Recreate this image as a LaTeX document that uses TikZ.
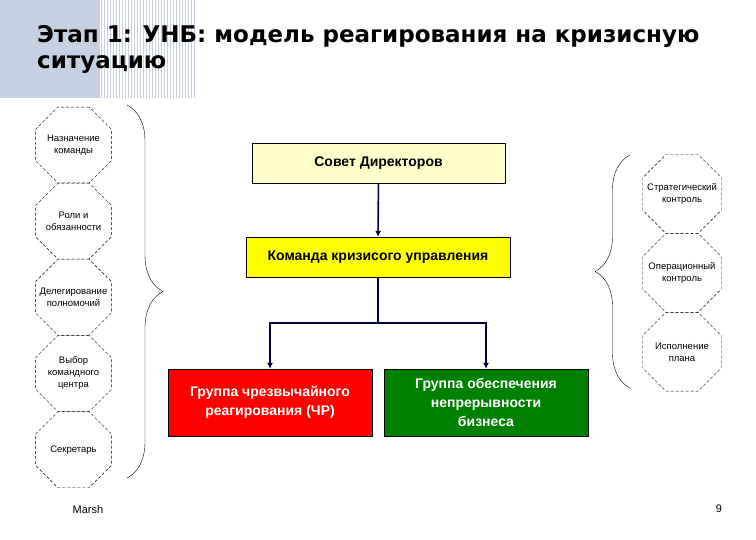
\documentclass[tikz,border=0pt]{standalone}
\usepackage{fontspec}
\setmainfont{Liberation Sans}
\newfontfamily\titlefont{DejaVu Sans}
\usetikzlibrary{arrows.meta, positioning, shapes.geometric, decorations.pathreplacing}

\definecolor{headblue}{RGB}{197,209,225}
\definecolor{boardfill}{RGB}{255,255,204}
\definecolor{teamfill}{RGB}{255,255,0}
\definecolor{redfill}{RGB}{255,0,0}
\definecolor{greenfill}{RGB}{0,128,0}
\definecolor{linknavy}{RGB}{0,0,64}

\begin{document}
\begin{tikzpicture}[x=1pt, y=-1pt,
    node distance=0pt,
    box/.style={rectangle, draw, thin, minimum width=253pt, minimum height=40pt, text centered, font=\bfseries\fontsize{14}{19}\selectfont},
    group/.style={box, minimum width=204pt, minimum height=67pt, text=white, align=center},
    octleft/.style={regular polygon, regular polygon sides=8, draw, dash pattern=on 3pt off 2pt, thin, minimum size=82pt, inner sep=0pt},
    octright/.style={octleft, minimum size=85pt},
    octtext/.style={align=center, inner sep=0pt, font=\fontsize{9.5}{12}\selectfont},
    bracket/.style={decorate, thin},
    link/.style={draw=linknavy, line width=1.6pt},
    arrow/.style={link, -{Latex[length=6pt, width=6pt]}}]
    \useasboundingbox (0,0) rectangle (756,540);

    % Header
    \fill[headblue] (0,0) rectangle (100,98);
    \foreach \x in {101.5,104.5,...,197} \draw[headblue, line width=1.5pt] (\x,0) -- (\x,98);
    \node[anchor=north west, align=left, inner sep=0pt, font=\titlefont\bfseries\fontsize{23}{26}\selectfont] (title) at (37,25) {Этап 1: УНБ: модель реагирования на кризисную\\ситуацию};

    % Nodes
    \node[box, fill=boardfill] (board) at (378.5,163) {Совет Директоров};
    \node[box, fill=teamfill, minimum width=264pt] (team) at (378,257) {Команда кризисого управления};
    \node[group, fill=redfill] (red) at (270,402.5) {Группа чрезвычайного\\реагирования (ЧР)};
    \node[group, fill=greenfill] (green) at (486,402.5) {Группа обеспечения\\непрерывности\\бизнеса};
    \coordinate (split) at (378,323);

    % Left octagons
    \node[octleft, label={[octtext]center:Назначение\\команды}] (l1) at (73.5,145) {};
    \node[octleft, below=of l1, label={[octtext]center:Роли и\\обязанности}] (l2) {};
    \node[octleft, below=of l2, label={[octtext]center:Делегирование\\полномочий}] (l3) {};
    \node[octleft, below=of l3, label={[octtext]center:Выбор\\командного\\центра}] (l4) {};
    \node[octleft, below=of l4, label={[octtext]center:Секретарь}] (l5) {};

    % Right octagons
    \node[octright, label={[octtext]center:Стратегический\\контроль}] (r1) at (682,194) {};
    \node[octright, below=of r1, label={[octtext]center:Операционный\\контроль}] (r2) {};
    \node[octright, below=of r2, label={[octtext]center:Исполнение\\плана}] (r3) {};

    % Braces
    \coordinate (lbtop) at (127,105);
    \coordinate (lbbot) at (127,478);
    \coordinate (rbtop) at (630,155);
    \coordinate (rbbot) at (630,388);
    \draw[bracket, decoration={brace, amplitude=36pt}] (lbtop) -- (lbbot);
    \draw[bracket, decoration={brace, amplitude=35pt}] (rbbot) -- (rbtop);

    % Arrows
    \draw[arrow] (board) -- (team);
    \draw[link] (team) -- (split);
    \draw[arrow] (split) -| (red);
    \draw[arrow] (split) -| (green);

    % Footer
    \node[font=\fontsize{11}{13}\selectfont] (marsh) at (88,510) {Marsh};
    \node[font=\fontsize{11}{13}\selectfont] (page) at (719,509) {9};
\end{tikzpicture}
\end{document}
